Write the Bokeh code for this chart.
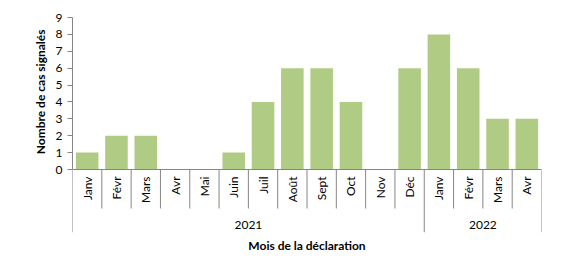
import math
from bokeh.plotting import figure
from bokeh.models import Range1d, LinearAxis, FixedTicker, ColumnDataSource, Title
from bokeh.core.properties import value
from bokeh.embed import file_html
from bokeh.resources import INLINE

months = ["Janv", "Févr", "Mars", "Avr", "Mai", "Juin", "Juil", "Août", "Sept", "Oct", "Nov", "Déc",
          "Janv", "Févr", "Mars", "Avr"]
years = ["2021"] * 12 + ["2022"] * 4
cases = [1, 2, 2, 0, 0, 1, 4, 6, 6, 4, 0, 6, 8, 6, 3, 3]
year_labels = ["2021", "2022"]
y_ticks = list(range(0, 10))

FONT = "Lato"
BAR = "#B0CC84"
AXIS = "#868686"

n = len(months)
frame_w, frame_h = 469, 215
px_per_unit = 152 / 9.0
y_bottom = -(frame_h - 152) / px_per_unit

p = figure(width=567, height=264, output_backend="svg", toolbar_location=None,
           x_range=Range1d(0, n), y_range=Range1d(y_bottom, 9),
           x_axis_type=None, y_axis_type=None,
           min_border_left=72, min_border_right=26, min_border_top=17, min_border_bottom=0,
           frame_width=frame_w, frame_height=frame_h)
p.outline_line_color = None
p.xgrid.visible = False
p.ygrid.visible = False
p.background_fill_color = "white"
p.border_fill_color = "white"

xs = [i + 0.5 for i in range(n)]
src = ColumnDataSource(dict(x=xs, top=cases, month=months, year=years))
p.vbar(x="x", top="top", bottom=0, width=0.77, source=src, fill_color=BAR, line_color=None)

# zero line
p.segment(x0=[0], y0=[0], x1=[n], y1=[0], line_color=AXIS, line_width=1)

# month separators
sep_short = -(208 - 169) / px_per_unit
year_bounds = [0] + [i for i in range(1, n) if years[i] != years[i - 1]] + [n]
short = [i for i in range(1, n) if i not in year_bounds]
p.segment(x0=short, y0=[0] * len(short), x1=short, y1=[sep_short] * len(short),
          line_color=AXIS, line_width=1)
p.segment(x0=year_bounds, y0=[0] * len(year_bounds), x1=year_bounds, y1=[y_bottom] * len(year_bounds),
          line_color=AXIS, line_width=1)

# month labels
p.text(x="x", y=-(176 - 169) / px_per_unit, text="month", source=src, angle=math.pi / 2,
       text_align="right", text_baseline="middle", text_font=value(FONT),
       text_font_size="12px", text_color="#000000")

# year labels
yx = [(year_bounds[k] + year_bounds[k + 1]) / 2 for k in range(len(year_labels))]
p.text(x=yx, y=[-(224 - 169) / px_per_unit] * len(yx), text=year_labels,
       text_align="center", text_baseline="middle", text_font=value(FONT),
       text_font_size="12px", text_color="#000000")

# y axis
ya = LinearAxis(ticker=FixedTicker(ticks=y_ticks), bounds=(0, 9))
ya.axis_line_color = AXIS
ya.major_tick_line_color = AXIS
ya.major_tick_out = 5
ya.major_tick_in = 0
ya.minor_tick_line_color = None
ya.major_label_text_font = FONT
ya.major_label_text_font_size = "12px"
ya.major_label_text_color = "#000000"
ya.major_label_standoff = 5
p.add_layout(ya, "left")

# y axis title, placed along the 0..9 value span
yt = Title(text="Nombre de cas signalés", align="right", offset=12,
           text_font=FONT, text_font_size="12px", text_font_style="bold",
           text_color="#000000", standoff=10)
p.add_layout(yt, "left")

# x axis title only
xa = LinearAxis(ticker=FixedTicker(ticks=[]))
xa.axis_line_color = None
xa.major_tick_line_color = None
xa.minor_tick_line_color = None
xa.major_label_text_font_size = "0px"
xa.axis_label = "Mois de la déclaration"
xa.axis_label_text_font = FONT
xa.axis_label_text_font_size = "12px"
xa.axis_label_text_font_style = "bold"
xa.axis_label_text_color = "#000000"
xa.axis_label_standoff = 5
p.add_layout(xa, "below")

open("out.html", "w").write(file_html(p, INLINE))
